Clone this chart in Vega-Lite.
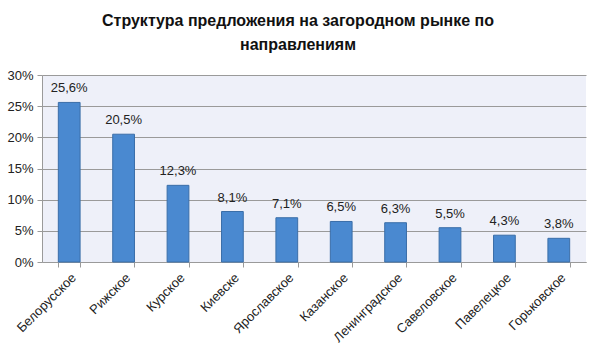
{
  "$schema": "https://vega.github.io/schema/vega-lite/v6.json",
  "autosize": {"type": "none"},
  "width": 544,
  "height": 187,
  "padding": {"left": 42, "top": 75, "right": 14, "bottom": 101},
  "background": "#ffffff",
  "config": {
    "locale": {"number": {"decimal": ",", "thousands": " ", "grouping": [3], "currency": ["", ""]}},
    "view": {"fill": "#eef0f9", "stroke": null},
    "font": "Liberation Sans"
  },
  "title": {
    "text": ["Структура предложения на загородном рынке по", "направлениям"],
    "font": "Liberation Sans",
    "fontSize": 16,
    "fontWeight": "bold",
    "color": "#111111",
    "anchor": "middle",
    "dx": -16,
    "offset": 16,
    "lineHeight": 24
  },
  "data": {
    "values": [
      {"direction": "Белорусское", "share": 0.256},
      {"direction": "Рижское", "share": 0.205},
      {"direction": "Курское", "share": 0.123},
      {"direction": "Киевске", "share": 0.081},
      {"direction": "Ярославское", "share": 0.071},
      {"direction": "Казанское", "share": 0.065},
      {"direction": "Ленинградское", "share": 0.063},
      {"direction": "Савеловское", "share": 0.055},
      {"direction": "Павелецкое", "share": 0.043},
      {"direction": "Горьковское", "share": 0.038}
    ]
  },
  "encoding": {
    "x": {
      "field": "direction",
      "type": "nominal",
      "sort": null,
      "scale": {"paddingInner": 0.6, "paddingOuter": 0.3},
      "axis": {
        "title": null,
        "labelAngle": -45,
        "labelFontSize": 13,
        "labelColor": "#222222",
        "labelPadding": 4,
        "bandPosition": 0,
        "tickBand": "extent",
        "domainColor": "#9a9a9a",
        "tickColor": "#9a9a9a",
        "tickSize": 5
      }
    },
    "y": {
      "field": "share",
      "type": "quantitative",
      "scale": {"domain": [0, 0.3], "nice": false},
      "axis": {
        "title": null,
        "format": ".0%",
        "values": [0, 0.05, 0.1, 0.15, 0.2, 0.25, 0.3],
        "labelFontSize": 13,
        "labelColor": "#222222",
        "labelPadding": 4,
        "domainColor": "#9a9a9a",
        "tickColor": "#9a9a9a",
        "tickSize": 5,
        "gridColor": "#9a9a9a",
        "gridWidth": 1
      }
    }
  },
  "layer": [
    {
      "mark": {"type": "bar", "color": "#4a89d0", "stroke": "#3a6ea8", "strokeWidth": 1}
    },
    {
      "mark": {"type": "text", "baseline": "bottom", "dy": -7, "fontSize": 13, "color": "#222222"},
      "encoding": {
        "text": {"field": "share", "type": "quantitative", "format": ".1%"}
      }
    }
  ]
}
